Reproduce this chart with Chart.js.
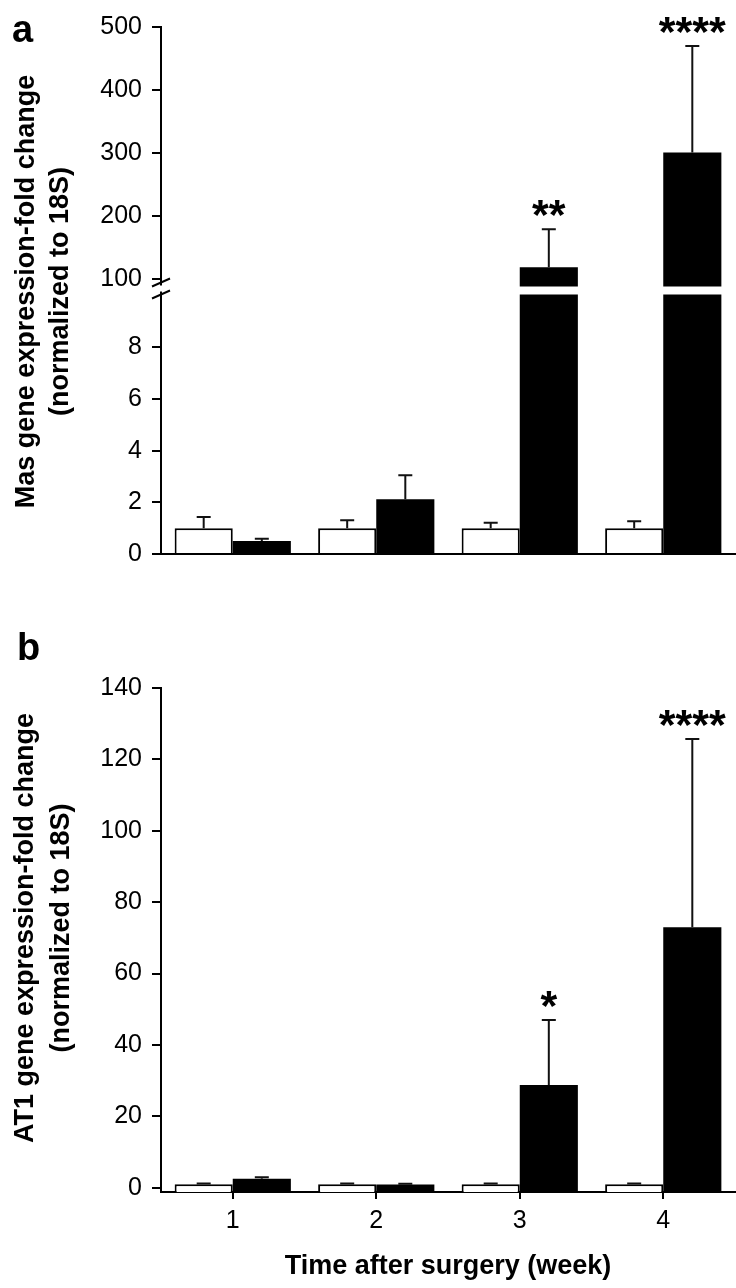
<!DOCTYPE html>
<html>
<head>
<meta charset="utf-8">
<title>Mas and AT1 gene expression</title>
<script src="https://cdn.jsdelivr.net/npm/chart.js@4.4.1/dist/chart.umd.min.js"></script>
<style>
  html, body { margin: 0; padding: 0; background: #fff; }
  #wrap { position: relative; width: 736px; height: 1288px; }
  canvas { position: absolute; left: 0; }
  #chart-a { top: 0; }
  #chart-b { top: 580px; }
</style>
</head>
<body>
<div id="wrap">
  <canvas id="chart-a" width="736" height="580"></canvas>
  <canvas id="chart-b" width="736" height="708"></canvas>
</div>
<script>
const weeks = ['1', '2', '3', '4'];

// panel a: Mas
const masControl = [1, 1, 1, 1];
const masControlSD = [0.43, 0.31, 0.21, 0.27];
const masTreated = [0.5, 2.12, 119, 301];
const masTreatedSD = [0.09, 0.93, 60, 169];
const masStars = ['', '', '**', '****'];

// panel b: AT1
const at1Control = [1, 1, 1, 1];
const at1ControlSD = [0.2, 0.2, 0.2, 0.2];
const at1Treated = [2.5, 0.9, 28.8, 73];
const at1TreatedSD = [0.4, 0.2, 18.2, 52.7];
const at1Stars = ['', '', '*', '****'];

const FONT = "'Liberation Sans', Arial, Helvetica, sans-serif";
Chart.defaults.font.family = FONT;
Chart.defaults.color = '#000';
Chart.defaults.animation = false;

const GAP = 4; // half of the white gap at the axis break

// clips each dataset to its own y scale, draws error bars, stars, titles
const decorPlugin = {
    id: 'decor',
    beforeDatasetDraw(chart, args) {
        const ctx = chart.ctx;
        const area = chart.chartArea;
        let top = area.top - 40;
        let bottom = area.bottom + 2;
        if (chart.scales.yLow) {
            const b = chart.scales.yLow.top;
            if (args.meta.yAxisID === 'yLow') top = b + GAP;
            else bottom = b - GAP;
        }
        ctx.save();
        ctx.beginPath();
        ctx.rect(area.left - 2, top, area.right - area.left + 4, bottom - top);
        ctx.clip();
    },
    afterDatasetDraw(chart, args) {
        const ctx = chart.ctx;
        const ds = chart.data.datasets[args.index];
        const ys = chart.scales[args.meta.yAxisID];
        if (ds.errors) {
            ctx.strokeStyle = '#111';
            ctx.lineWidth = 2;
            args.meta.data.forEach((bar, i) => {
                const top = ys.getPixelForValue(ds.data[i] + ds.errors[i]);
                ctx.beginPath();
                ctx.moveTo(bar.x, bar.y);
                ctx.lineTo(bar.x, top);
                ctx.moveTo(bar.x - 7, top);
                ctx.lineTo(bar.x + 7, top);
                ctx.stroke();
            });
        }
        ctx.restore();
    },
    afterDraw(chart, args, opts) {
        const ctx = chart.ctx;
        const area = chart.chartArea;
        ctx.save();
        ctx.fillStyle = '#000';

        // significance stars
        chart.data.datasets.forEach((ds, di) => {
            if (!ds.stars) return;
            const meta = chart.getDatasetMeta(di);
            const ys = chart.scales[meta.yAxisID];
            ctx.font = 'bold 43px ' + FONT;
            ctx.textAlign = 'center';
            ctx.textBaseline = 'alphabetic';
            meta.data.forEach((bar, i) => {
                if (!ds.stars[i]) return;
                const top = ys.getPixelForValue(ds.data[i] + ds.errors[i]);
                ctx.fillText(ds.stars[i], bar.x, top + opts.starShift);
            });
        });

        // panel letter
        ctx.font = 'bold 38px ' + FONT;
        ctx.textAlign = 'left';
        ctx.fillText(opts.letter, opts.letterX, opts.letterY);

        // y axis title, two lines
        const cy = (area.top + area.bottom) / 2 + opts.titleShift;
        ctx.font = 'bold 27px ' + FONT;
        ctx.textAlign = 'center';
        ctx.textBaseline = 'middle';
        opts.title.forEach((line, i) => {
            ctx.save();
            ctx.translate(opts.titleX[i], cy);
            ctx.rotate(-Math.PI / 2);
            ctx.fillText(line, 0, 0);
            ctx.restore();
        });

        // axis break marks
        if (chart.scales.yLow) {
            const b = chart.scales.yLow.top - 2;
            const x = area.left;
            ctx.fillStyle = '#fff';
            ctx.fillRect(x - 3, b - 3, 6, 6);
            ctx.strokeStyle = '#000';
            ctx.lineWidth = 2;
            [-6, 6].forEach(d => {
                ctx.beginPath();
                ctx.moveTo(x - 9, b + d + 4);
                ctx.lineTo(x + 9, b + d - 4);
                ctx.stroke();
            });
        }
        ctx.restore();
    }
};

function yScale(extra) {
    return Object.assign({
        type: 'linear',
        position: 'left',
        stacked: false,
        ticks: { font: { size: 25 }, padding: 10, includeBounds: false, autoSkip: false },
        grid: { drawOnChartArea: false, tickLength: 9, color: '#000', lineWidth: 2 },
        border: { color: '#000', width: 2 },
        afterFit: s => { s.width = 161; }
    }, extra);
}

new Chart(document.getElementById('chart-a'), {
    type: 'bar',
    data: {
        labels: weeks,
        datasets: [
            { label: 'Control', data: masControl, errors: masControlSD, yAxisID: 'yLow', stack: 'control',
              backgroundColor: '#fff', borderColor: '#000', borderWidth: 2 },
            { label: 'Treated', data: masTreated, errors: masTreatedSD, yAxisID: 'yLow', stack: 'treated',
              backgroundColor: '#000', borderWidth: 0 },
            { label: 'Treated', data: masTreated, errors: masTreatedSD, stars: masStars, yAxisID: 'yHigh', stack: 'treated',
              backgroundColor: '#000', borderWidth: 0 }
        ]
    },
    options: {
        responsive: false,
        maintainAspectRatio: false,
        categoryPercentage: 0.81,
        barPercentage: 1,
        layout: { padding: { top: 27, right: 1, bottom: 26, left: 0 } },
        plugins: {
            legend: { display: false },
            tooltip: { enabled: false },
            decor: {
                letter: 'a', letterX: 12, letterY: 42,
                title: ['Mas gene expression-fold change', '(normalized to 18S)'],
                titleX: [27, 61], titleShift: 1, starShift: 0
            }
        },
        scales: {
            x: {
                grid: { display: false, drawTicks: false },
                ticks: { display: false },
                border: { display: true, color: '#000', width: 2 },
                afterFit: s => { s.height = 0; }
            },
            yLow: yScale({
                stack: 'mas', stackWeight: 1, min: 0, max: 10.2,
                ticks: { stepSize: 2, font: { size: 25 }, padding: 10, includeBounds: false, autoSkip: false },
                afterBuildTicks: s => { s.ticks = s.ticks.filter(t => t.value < 10); }
            }),
            yHigh: yScale({
                stack: 'mas', stackWeight: 1, min: 82, max: 500,
                ticks: { stepSize: 100, font: { size: 25 }, padding: 10, includeBounds: false, autoSkip: false }
            })
        }
    },
    plugins: [decorPlugin]
});

new Chart(document.getElementById('chart-b'), {
    type: 'bar',
    data: {
        labels: weeks,
        datasets: [
            { label: 'Control', data: at1Control, errors: at1ControlSD, yAxisID: 'y', base: -1.2,
              backgroundColor: '#fff', borderColor: '#000', borderWidth: 2 },
            { label: 'Treated', data: at1Treated, errors: at1TreatedSD, stars: at1Stars, yAxisID: 'y', base: -1.2,
              backgroundColor: '#000', borderWidth: 0 }
        ]
    },
    options: {
        responsive: false,
        maintainAspectRatio: false,
        categoryPercentage: 0.81,
        barPercentage: 1,
        layout: { padding: { top: 108, right: 1, bottom: 0, left: 0 } },
        plugins: {
            legend: { display: false },
            tooltip: { enabled: false },
            decor: {
                letter: 'b', letterX: 17, letterY: 80,
                title: ['AT1 gene expression-fold change', '(normalized to 18S)'],
                titleX: [26, 62], titleShift: -12, starShift: 0
            }
        },
        scales: {
            x: {
                grid: { display: true, drawOnChartArea: false, offset: false, tickLength: 7, color: '#000', lineWidth: 2 },
                ticks: { font: { size: 25 }, padding: 7 },
                border: { color: '#000', width: 2 },
                title: {
                    display: true,
                    text: 'Time after surgery (week)',
                    font: { size: 27, weight: 'bold' },
                    padding: { top: 2, bottom: 5 }
                },
                afterFit: s => { s.height = 96; }
            },
            y: yScale({
                min: -1.2, max: 140,
                ticks: { stepSize: 20, font: { size: 25 }, padding: 10, includeBounds: false, autoSkip: false }
            })
        }
    },
    plugins: [decorPlugin]
});
</script>
</body>
</html>
